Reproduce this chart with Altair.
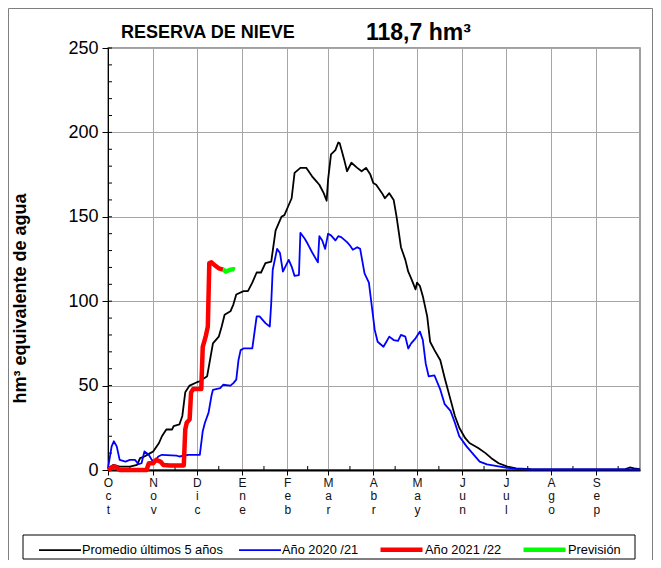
import json
import altair as alt
import pandas as pd

FONT = "Liberation Sans"
GRID = "#a6a6a6"
W, H = 532, 422

series_names = ["Promedio últimos 5 años", "Año 2020 /21", "Año 2021 /22", "Previsión"]
series_colors = ["#000000", "#0000ff", "#ff0000", "#00ff00"]
series_widths = [1.8, 1.8, 4.5, 4.5]

month_days = [0, 31, 61, 92, 123, 151, 182, 212, 243, 273, 304, 335]
month_labels = ["Oct", "Nov", "Dic", "Ene", "Feb", "Mar", "Abr", "May", "Jun", "Jul", "Ago", "Sep"]
mid_month_days = [15, 46, 76, 107, 137, 166, 197, 227, 258, 288, 319, 350]
y_major = [0, 50, 100, 150, 200, 250]
y_minor = list(range(0, 251, 10))

title_text = ["RESERVA DE NIEVE"]
value_text = ["118,7 hm³"]

prom_day = [0, 3.6, 8, 15, 20, 22, 25, 29, 31, 35, 37, 40, 44, 45, 49, 51, 53, 56, 61, 63,
            68, 72, 76, 78, 80, 84, 86, 88, 93, 96, 99, 102, 105, 108, 112, 115, 119, 121, 124, 126,
            128, 132, 136, 140, 143, 145, 148, 150, 151, 153, 156, 158, 159, 162, 164, 167, 171, 174, 177, 180,
            182, 184, 188, 190, 193, 196, 198, 201, 204, 206, 208, 211, 212, 214, 216, 219, 221, 224, 228, 231,
            235, 238, 241, 245, 248, 254, 259, 263, 268, 274, 280, 290, 300, 320, 340, 355, 358, 361, 365]
prom_val = [1, 3, 2, 2, 3, 7, 8, 10, 11, 16, 20, 24, 24, 26, 27, 32, 46, 50, 52, 52.5,
            55.5, 75, 79, 85, 92, 94, 98, 104, 106, 106, 111, 117, 117, 122.5, 123.5, 142, 150, 151, 157, 161,
            176, 179, 179, 174, 171, 169, 164, 159.5, 172, 187, 189.5, 194, 193.5, 184, 177, 182, 179, 177, 179, 175,
            170, 169, 164, 161, 164, 160, 150, 132, 124.5, 117.5, 113.5, 107, 111, 109, 103, 91, 76, 71, 65, 54.5,
            41.7, 32, 25, 19, 16, 13, 10, 7, 4, 2, 1, 0.5, 0.3, 0.3, 0.3, 0.5, 1.5, 1, 0.5]

blue_day = [0, 2.5, 4, 6, 8, 12, 15, 18.5, 21, 23, 25, 28, 30, 32, 34.5, 37, 47, 49, 55, 63,
            65, 66.5, 69, 71, 72, 77, 79, 84, 86, 88, 89.5, 91, 93, 99, 102, 104, 108, 111, 112, 113,
            116, 118, 120, 124, 126, 128, 131, 132, 135, 137, 140, 144, 145, 147, 149, 151, 153, 156, 158, 160,
            164, 166, 168, 171, 173, 176, 179, 181, 183, 185, 189, 191, 193, 196, 199, 201, 204, 206, 208, 211,
            214, 216, 218, 220, 224, 228, 231, 235, 238, 241, 246, 251, 255, 260, 267, 274, 280, 290, 365]
blue_val = [1, 14, 17, 14, 6, 5, 6, 6, 3.5, 4, 11, 9, 6, 5, 8, 9, 8.5, 8, 9, 9,
            23, 28, 34, 44, 47.5, 48.5, 50.5, 50, 51.5, 53.5, 65, 71, 72, 72, 91, 91, 87, 85, 99, 118.5,
            131, 128.5, 117.5, 124.5, 120.5, 115, 115.5, 140.5, 137, 134, 129, 123, 138.5, 136, 131, 140, 139, 136, 138.5, 138,
            135, 133, 130.5, 132, 131, 116.5, 111, 97, 83, 76, 73, 76, 79, 77, 76.5, 80, 79, 72, 75, 78,
            82, 77, 63, 55.5, 56, 47.6, 39, 35, 28, 20, 14, 9, 5, 3.3, 2.3, 1.3, 0.7, 0.3, 0.3]

red_day = [0, 3.6, 5, 8, 26.5, 28, 31, 33, 36, 38, 42.5, 52, 53, 54, 56, 57, 58.5, 64, 65, 67,
           68.5, 69.5, 71, 73, 76, 79]
red_val = [0, 2, 2, 0, 0, 4, 4, 6, 5, 3, 2.7, 2.7, 24, 28, 30, 46, 48, 48, 73, 79,
           85, 122.5, 123, 121.5, 119.5, 118.7]

green_day = [79, 81, 84, 86, 87]
green_val = [118.7, 117.6, 118.7, 119, 118.7]


def frame(name, days, vals):
    return pd.DataFrame({"day": days, "v": vals, "serie": name})


label_expr = "split({}[indexof({}, datum.value)], '')".format(
    json.dumps(month_labels), json.dumps(month_days))

x_enc = alt.X(
    "day:Q",
    scale=alt.Scale(domain=[0, 365], nice=False, zero=False),
    axis=alt.Axis(
        values=month_days, grid=True, gridColor=GRID, gridWidth=1,
        domainColor="black", domainWidth=2, tickColor="black", tickSize=5, tickWidth=1,
        labelExpr=label_expr, labelFont=FONT, labelFontSize=12, labelColor="#111111",
        labelLineHeight=13.5, labelBaseline="top", labelAlign="center", labelPadding=2,
        labelFlush=False, labelOverlap=False, title=None,
    ),
)
y_enc = alt.Y(
    "v:Q",
    scale=alt.Scale(domain=[0, 250], nice=False),
    axis=alt.Axis(
        values=y_major, grid=True, gridColor=GRID, gridWidth=1,
        domainColor="black", domainWidth=1, tickColor="black", tickSize=6,
        labelFont=FONT, labelFontSize=18, labelColor="black", labelPadding=4,
        title="hm³ equivalente de agua", titleFont=FONT, titleFontSize=18,
        titleFontWeight="bold", titleColor="black", titleX=-88, titleY=250,
        titleAngle=270, titleAlign="center", titleBaseline="middle",
    ),
)

legend = alt.Legend(
    title=None, orient="none", legendX=-70, legendY=478, direction="horizontal",
    symbolType="stroke", symbolSize=1764, labelFont=FONT, labelFontSize=12.8,
    labelColor="black", labelOffset=0, columnPadding=12, padding=0, labelLimit=300,
)
color_enc = alt.Color("serie:N", scale=alt.Scale(domain=series_names, range=series_colors), legend=legend)
width_enc = alt.StrokeWidth(
    "serie:N", scale=alt.Scale(type="ordinal", domain=series_names, range=series_widths), legend=legend
)


def line_layer(df):
    return alt.Chart(df).mark_line(strokeJoin="round").encode(
        x=x_enc, y=y_enc, color=color_enc, strokeWidth=width_enc
    )


black = line_layer(frame(series_names[0], prom_day, prom_val))
blue = line_layer(frame(series_names[1], blue_day, blue_val))
red = line_layer(frame(series_names[2], red_day, red_val))
green = line_layer(frame(series_names[3], green_day, green_val))

ytick_minor = alt.Chart(pd.DataFrame({"v": y_minor})).mark_rule(color="black", strokeWidth=1).encode(
    y=y_enc, x=alt.value(0), x2=alt.value(4)
)
xtick_minor = alt.Chart(pd.DataFrame({"day": mid_month_days})).mark_rule(color="black", strokeWidth=1).encode(
    x=x_enc, y=alt.value(H), y2=alt.value(H - 4)
)

one = pd.DataFrame({"k": [0]})
outer_frame = alt.Chart(one).mark_rect(fillOpacity=0, stroke="#7f7f7f", strokeWidth=1).encode(
    x=alt.value(-99.5), x2=alt.value(544.5), y=alt.value(-39.5), y2=alt.value(560)
)
legend_box = alt.Chart(one).mark_rect(fillOpacity=0, stroke="black", strokeWidth=1).encode(
    x=alt.value(-85), x2=alt.value(527), y=alt.value(487), y2=alt.value(511)
)

title1 = alt.Chart(pd.DataFrame({"t": title_text})).mark_text(
    font=FONT, fontSize=18, fontWeight="bold", align="left", baseline="alphabetic", color="black"
).encode(text="t:N", x=alt.value(13), y=alt.value(-10))
title2 = alt.Chart(pd.DataFrame({"t": value_text})).mark_text(
    font=FONT, fontSize=23, fontWeight="bold", align="left", baseline="alphabetic", color="black"
).encode(text="t:N", x=alt.value(258), y=alt.value(-8))

chart = alt.layer(
    outer_frame, legend_box, ytick_minor, xtick_minor, black, blue, red, green, title1, title2
).properties(
    width=W, height=H,
    padding={"left": 100, "top": 40, "right": 13, "bottom": 90},
    autosize=alt.AutoSizeParams(type="none"),
    background="white",
).configure_view(stroke="#808080", strokeWidth=1.5)

chart.save("out.html", embed_options={"renderer": "svg", "actions": False})
